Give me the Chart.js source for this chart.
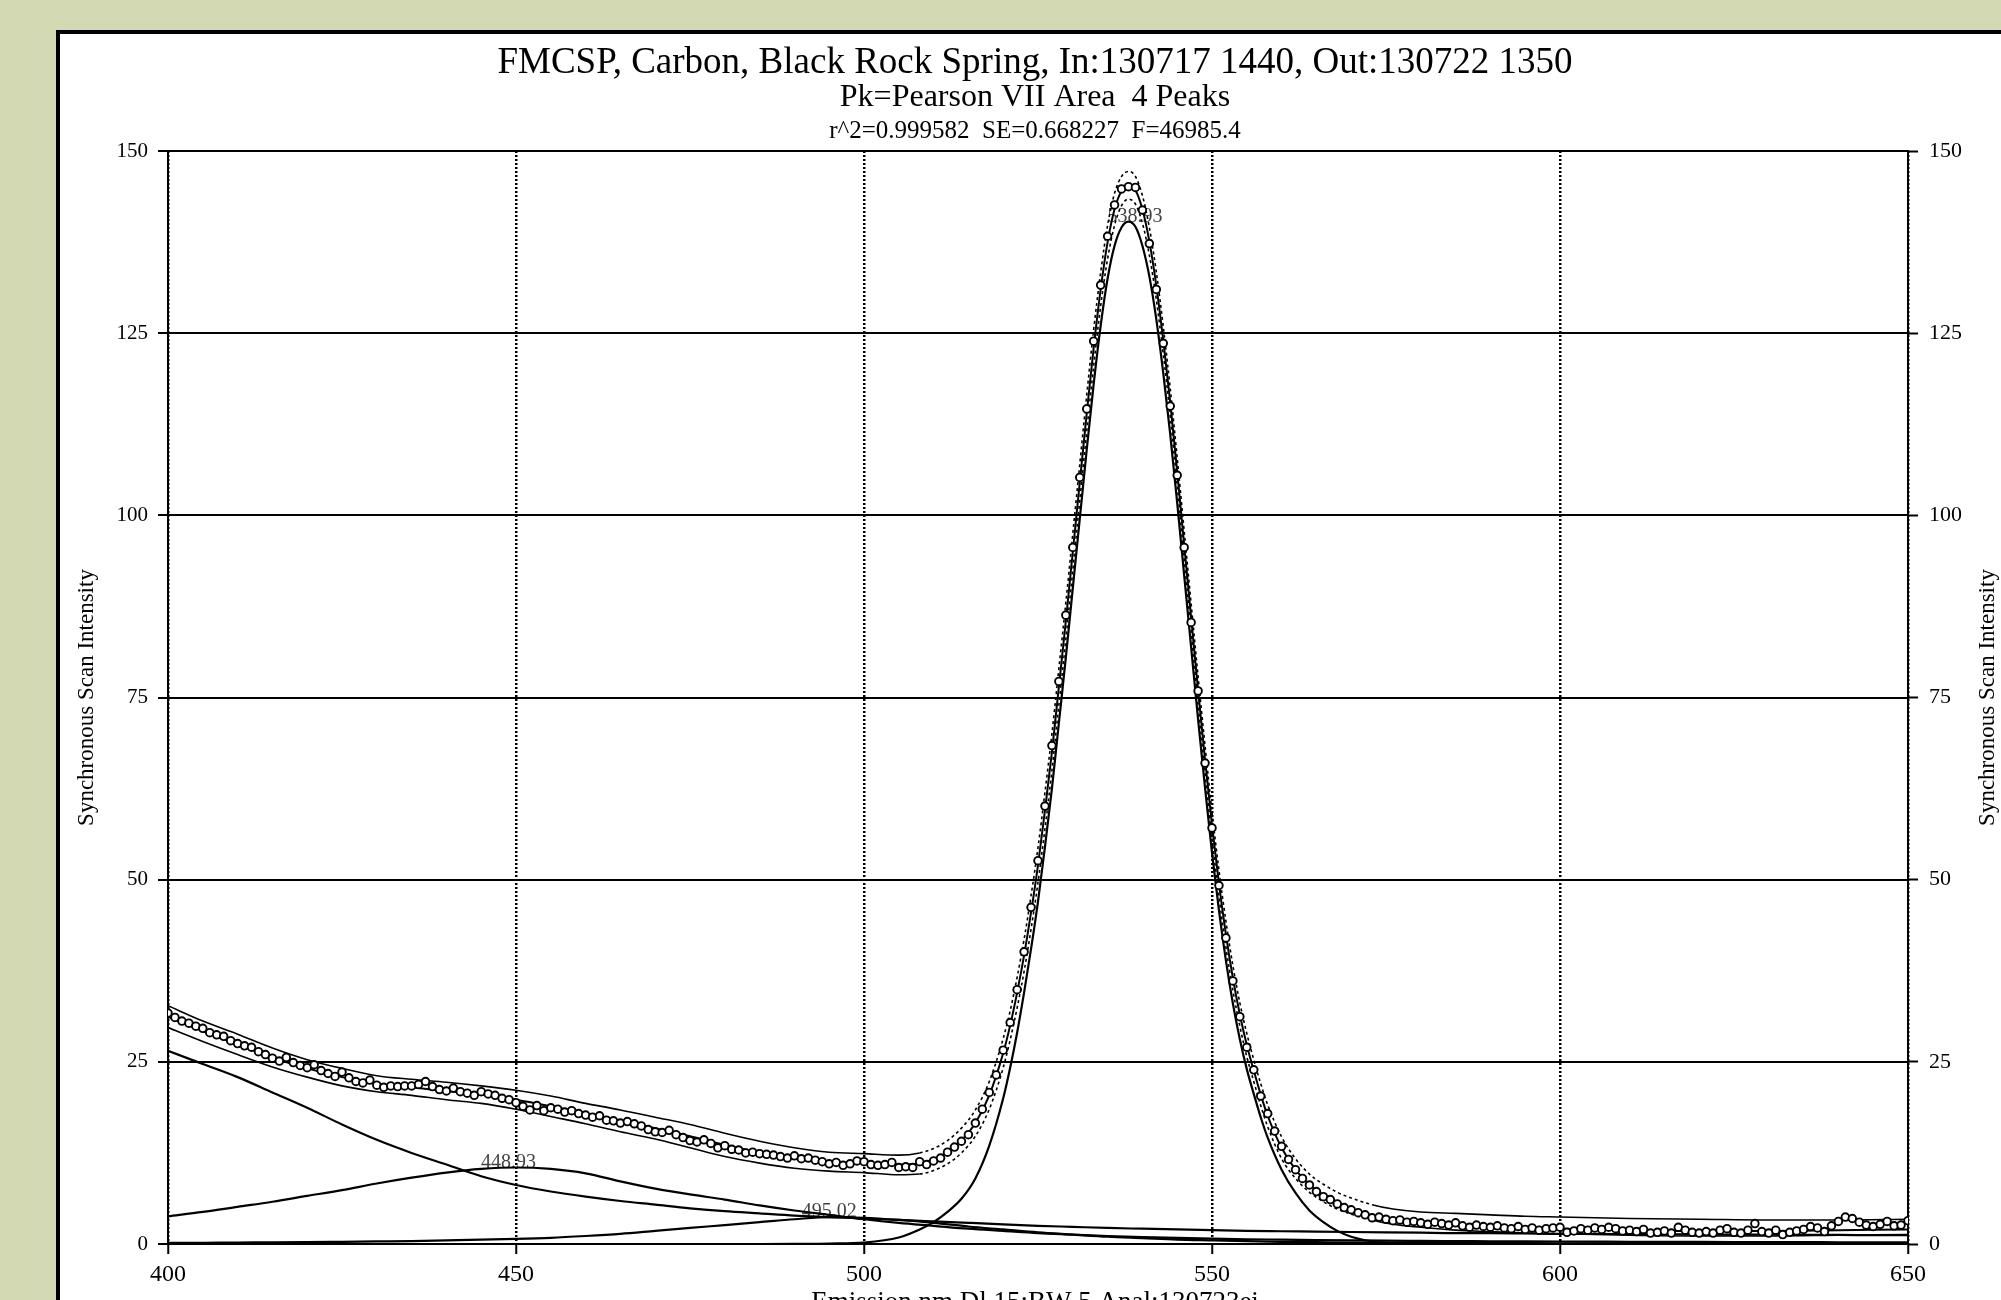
<!DOCTYPE html>
<html>
<head>
<meta charset="utf-8">
<title>FMCSP Carbon - Black Rock Spring</title>
<script src="https://cdn.jsdelivr.net/npm/chart.js@4.4.0/dist/chart.umd.min.js"></script>
<style>
    html, body { margin: 0; padding: 0; background: #d3dab3; overflow: hidden; }
    .panel { position: absolute; left: 56px; top: 30px; width: 1945px; height: 1270px; background: #fff; border-left: 4px solid #000; border-top: 4px solid #000; }
    #scanChart { position: absolute; left: 0; top: 0; }
</style>
</head>
<body>
<div class="panel"></div>
<canvas id="scanChart" width="2001" height="1300"></canvas>
<script>
//-------DATA--------//
const titleLines = [
    "FMCSP, Carbon, Black Rock Spring, In:130717 1440, Out:130722 1350",
    "Pk=Pearson VII Area  4 Peaks",
    "r^2=0.999582  SE=0.668227  F=46985.4"
];
const xTitle = "Emission nm Dl 15;BW 5 Anal:130723ei";
const yTitle = "Synchronous Scan Intensity";

// measured points, one per nm starting at 400
const scanStart = 400;
const scanIntensity = [
    31.7, 31.1, 30.6, 30.3, 29.9, 29.6, 29.0, 28.7, 28.5, 27.9,
    27.5, 27.2, 27.0, 26.4, 26.0, 25.5, 25.1, 25.6, 24.9, 24.5,
    24.2, 24.6, 23.8, 23.4, 23.0, 23.6, 22.8, 22.3, 22.1, 22.5,
    21.8, 21.5, 21.7, 21.6, 21.7, 21.7, 21.9, 22.3, 21.6, 21.2,
    21.0, 21.4, 20.9, 20.7, 20.4, 20.9, 20.6, 20.4, 20.0, 19.8,
    19.4, 18.9, 18.4, 19.0, 18.3, 18.7, 18.5, 18.1, 18.3, 17.9,
    17.7, 17.4, 17.6, 17.0, 16.9, 16.6, 16.8, 16.5, 16.2, 15.7,
    15.4, 15.3, 15.6, 15.0, 14.6, 14.2, 14.0, 14.3, 13.8, 13.2,
    13.5, 13.0, 12.9, 12.5, 12.6, 12.4, 12.3, 12.2, 12.0, 11.8,
    12.1, 11.7, 11.8, 11.5, 11.3, 11.0, 11.2, 10.8, 11.0, 11.4,
    11.3, 10.9, 10.8, 10.9, 11.2, 10.5, 10.6, 10.5, 11.3, 10.9,
    11.4, 11.8, 12.6, 13.3, 14.1, 15.0, 16.6, 18.5, 20.8, 23.2,
    26.6, 30.4, 34.9, 40.1, 46.2, 52.6, 60.1, 68.4, 77.2, 86.3,
    95.6, 105.2, 114.6, 123.9, 131.6, 138.3, 142.6, 144.8, 145.1, 145.0,
    141.9, 137.3, 131.0, 123.6, 115.0, 105.5, 95.6, 85.3, 75.9, 66.0,
    57.1, 49.2, 42.0, 36.1, 31.2, 27.0, 23.9, 20.3, 17.9, 15.5,
    13.4, 11.6, 10.2, 9.0, 8.1, 7.2, 6.5, 6.1, 5.5, 5.0,
    4.7, 4.3, 4.0, 3.6, 3.7, 3.4, 3.2, 3.3, 3.0, 3.1,
    2.9, 2.7, 3.0, 2.8, 2.6, 2.9, 2.5, 2.3, 2.6, 2.4,
    2.3, 2.5, 2.2, 2.1, 2.4, 2.0, 2.2, 1.9, 2.1, 2.2,
    2.3, 1.6, 1.8, 2.1, 1.9, 2.2, 2.0, 2.3, 2.1, 1.8,
    1.9, 1.7, 2.0, 1.5, 1.6, 1.8, 1.5, 2.3, 1.9, 1.6,
    1.5, 1.7, 1.5, 1.9, 2.1, 1.6, 1.5, 1.9, 2.8, 1.7,
    1.5, 1.9, 1.3, 1.6, 1.8, 2.0, 2.4, 2.2, 1.7, 2.5,
    3.1, 3.7, 3.5, 3.0, 2.6, 2.4, 2.7, 3.1, 2.5, 2.6,
    3.2
];

// fitted curve, its bands and the big 538.93 peak share this x grid
const fitX = [
    400, 405, 410, 415, 420, 425, 430, 435, 440, 445,
    450, 455, 460, 465, 470, 475, 480, 485, 490, 495,
    500, 505, 508, 510, 512, 514, 516, 518, 520, 521,
    522, 523, 524, 525, 526, 527, 528, 529, 530, 531,
    532, 533, 534, 535, 536, 537, 538, 539, 540, 541,
    542, 543, 544, 545, 546, 547, 548, 549, 550, 551,
    552, 553, 554, 555, 556, 557, 558, 560, 562, 564,
    566, 568, 570, 573, 576, 580, 585, 590, 595, 600,
    610, 620, 630, 640, 650
];
const fitY = [
    31.2, 29.2, 27.4, 25.6, 24.1, 22.9, 22.0, 21.5, 21.0, 20.5,
    19.8, 18.9, 17.9, 16.9, 15.9, 14.8, 13.6, 12.6, 11.8, 11.3,
    11.1, 10.9, 11.1, 11.6, 12.6, 14.2, 16.6, 20.4, 26.2, 30.0,
    34.5, 39.6, 45.5, 52.0, 59.5, 67.5, 76.5, 85.5, 95.0, 104.5,
    114.0, 123.0, 131.0, 137.5, 142.0, 144.5, 145.3, 144.6, 142.0, 137.6,
    131.5, 124.0, 115.5, 106.0, 96.0, 86.0, 76.0, 66.5, 57.5, 49.5,
    42.5, 36.5, 31.5, 27.3, 23.8, 20.5, 17.6, 13.2, 10.2, 8.1,
    6.7, 5.6, 4.8, 3.9, 3.3, 2.9, 2.6, 2.4, 2.2, 2.1,
    1.9, 1.8, 1.8, 1.9, 2.0
];
const upperY = [
    32.7, 30.6, 28.8, 26.9, 25.3, 24.1, 23.1, 22.6, 22.2, 21.7,
    21.1, 20.3, 19.3, 18.4, 17.4, 16.4, 15.2, 14.1, 13.2, 12.6,
    12.4, 12.2, 12.5, 13.1, 14.2, 15.9, 18.4, 22.3, 28.2, 32.0,
    36.6, 41.8, 47.8, 54.4, 62.0, 70.0, 79.0, 88.0, 97.5, 107.0,
    116.5, 125.5, 133.3, 139.8, 144.2, 146.5, 147.2, 146.5, 143.9, 139.5,
    133.4, 125.9, 117.4, 107.9, 97.9, 87.9, 77.9, 68.4, 59.3, 51.3,
    44.3, 38.2, 33.1, 28.9, 25.3, 22.0, 19.1, 14.7, 11.7, 9.6,
    8.2, 7.1, 6.3, 5.4, 4.8, 4.4, 4.2, 4.0, 3.8, 3.7,
    3.5, 3.4, 3.3, 3.3, 3.4
];
const lowerY = [
    29.7, 27.8, 26.0, 24.3, 22.9, 21.7, 20.9, 20.4, 19.8, 19.3,
    18.5, 17.5, 16.5, 15.4, 14.4, 13.2, 12.0, 11.1, 10.4, 10.0,
    9.8, 9.5, 9.6, 10.1, 11.0, 12.5, 14.8, 18.5, 24.2, 28.0,
    32.4, 37.4, 43.2, 49.6, 57.0, 65.0, 74.0, 83.0, 92.5, 102.0,
    111.5, 120.5, 128.7, 135.2, 139.8, 142.5, 143.4, 142.7, 140.1, 135.7,
    129.6, 122.1, 113.6, 104.1, 94.1, 84.1, 74.1, 64.6, 55.7, 47.7,
    40.7, 34.8, 29.9, 25.7, 22.3, 19.0, 16.1, 11.7, 9.0, 7.1,
    5.8, 4.8, 4.1, 3.3, 2.7, 2.3, 1.9, 1.7, 1.5, 1.4,
    1.2, 1.1, 1.1, 1.2, 1.3
];
const peak539 = [
    0, 0, 0, 0, 0, 0, 0, 0, 0, 0,
    0, 0, 0, 0, 0, 0, 0, 0, 0.02, 0.06,
    0.2, 0.9, 2.0, 3.0, 4.4, 6.2, 9.0, 13.5, 20.0, 24.2,
    29.0, 34.5, 40.5, 47.0, 54.5, 62.5, 71.5, 80.5, 90.0, 99.5,
    109.0, 118.0, 126.0, 132.5, 137.0, 139.5, 140.3, 139.6, 137.0, 132.8,
    126.9, 119.5, 111.1, 101.7, 91.8, 81.9, 72.0, 62.6, 53.7, 45.8,
    38.9, 33.0, 28.1, 24.0, 20.6, 17.4, 14.6, 10.2, 7.0, 4.6,
    3.0, 1.8, 1.0, 0.35, 0.1, 0, 0, 0, 0, 0,
    0, 0, 0, 0, 0
];

// the three smaller peaks, every 5 nm
const compX = [
    400, 405, 410, 415, 420, 425, 430, 435, 440, 445,
    450, 455, 460, 465, 470, 475, 480, 485, 490, 495,
    500, 505, 510, 515, 520, 525, 530, 535, 540, 545,
    550, 555, 560, 565, 570, 575, 580, 585, 590, 595,
    600, 605, 610, 615, 620, 625, 630, 635, 640, 645, 650
];
const peakLow = [
    26.5, 24.7, 22.9, 20.8, 18.7, 16.4, 14.3, 12.5, 10.9, 9.3,
    8.1, 7.2, 6.5, 5.9, 5.4, 4.9, 4.5, 4.2, 3.9, 3.7,
    3.5, 3.3, 3.1, 2.9, 2.7, 2.5, 2.35, 2.2, 2.1, 2.0,
    1.9, 1.8, 1.75, 1.7, 1.65, 1.6, 1.55, 1.5, 1.5, 1.45,
    1.4, 1.4, 1.35, 1.35, 1.3, 1.3, 1.3, 1.25, 1.25, 1.2, 1.2
];
const peak449 = [
    3.8, 4.4, 5.1, 5.8, 6.6, 7.4, 8.3, 9.1, 9.8, 10.3,
    10.5, 10.3, 9.7, 8.6, 7.6, 6.8, 6.1, 5.3, 4.6, 4.0,
    3.4, 2.9, 2.5, 2.1, 1.8, 1.5, 1.3, 1.1, 0.95, 0.85,
    0.75, 0.65, 0.6, 0.55, 0.5, 0.45, 0.42, 0.4, 0.38, 0.36,
    0.34, 0.32, 0.3, 0.29, 0.28, 0.27, 0.26, 0.25, 0.24, 0.23, 0.22
];
const peak495 = [
    0.15, 0.17, 0.2, 0.22, 0.25, 0.3, 0.35, 0.4, 0.5, 0.6,
    0.7, 0.85, 1.1, 1.4, 1.8, 2.2, 2.6, 3.0, 3.4, 3.7,
    3.6, 3.3, 2.9, 2.4, 2.0, 1.6, 1.3, 1.0, 0.8, 0.6,
    0.5, 0.4, 0.3, 0.25, 0.2, 0.18, 0.16, 0.14, 0.12, 0.11,
    0.1, 0.09, 0.08, 0.08, 0.07, 0.07, 0.06, 0.06, 0.05, 0.05, 0.05
];

// peak labels
const peakNames = ["448.93", "495.02", "538.93"];
const peakCentres = [448.93, 495.02, 538.93];
const peakTops = [10.5, 3.7, 140.3];

const xTicks = [400, 450, 500, 550, 600, 650];
const yTicks = [0, 25, 50, 75, 100, 125, 150];

//-------helpers--------//
function pairs(xs, ys) {
    return xs.map((x, i) => ({ x: x, y: ys[i] }));
}

const serif = '"Liberation Serif", "Times New Roman", serif';

// bands are drawn dotted around the big peak
function bandDash(ctx) {
    if (ctx.p0.parsed.x >= 508 && ctx.p1.parsed.x <= 573) {
        return [3, 3];
    }
    return undefined;
}

function curve(points, width) {
    return {
        data: points,
        borderColor: '#000',
        borderWidth: width,
        pointRadius: 0,
        fill: false,
        cubicInterpolationMode: 'monotone'
    };
}

//-------text plugin--------//
const frameText = {
    id: 'frameText',
    beforeDatasetsDraw(chart) {
        const { ctx } = chart;
        const x = chart.scales.x;
        const y = chart.scales.y;
        ctx.save();
        ctx.font = '20px ' + serif;
        ctx.fillStyle = '#444';
        ctx.textAlign = 'center';
        ctx.textBaseline = 'middle';
        for (let i = 0; i < peakNames.length; i++) {
            ctx.fillText(peakNames[i], x.getPixelForValue(peakCentres[i]), y.getPixelForValue(peakTops[i]) - 5);
        }
        ctx.restore();
    },
    afterDraw(chart) {
        const { ctx, chartArea } = chart;
        const mid = (chartArea.left + chartArea.right) / 2 - 3;
        const midY = (chartArea.top + chartArea.bottom) / 2;
        ctx.save();
        ctx.fillStyle = '#000';
        ctx.textAlign = 'center';
        ctx.textBaseline = 'middle';

        ctx.font = '37px ' + serif;
        ctx.fillText(titleLines[0], mid, 63);
        ctx.font = '32px ' + serif;
        ctx.fillText(titleLines[1], mid, 98);
        ctx.font = '25px ' + serif;
        ctx.fillText(titleLines[2], mid, 131);

        ctx.font = '27px ' + serif;
        ctx.textBaseline = 'top';
        ctx.fillText(xTitle, mid, 1289);

        // both y titles read bottom to top
        ctx.font = '23px ' + serif;
        ctx.textBaseline = 'middle';
        [87, 1988].forEach(function (px) {
            ctx.save();
            ctx.translate(px, midY);
            ctx.rotate(-Math.PI / 2);
            ctx.fillText(yTitle, 0, 0);
            ctx.restore();
        });
        ctx.restore();
    }
};

//-------CHART--------//
const ctx = document.getElementById('scanChart').getContext('2d');

const upperBand = curve(pairs(fitX, upperY), 1.6);
upperBand.segment = { borderDash: bandDash };
const lowerBand = curve(pairs(fitX, lowerY), 1.6);
lowerBand.segment = { borderDash: bandDash };

const scanChart = new Chart(ctx, {
    type: 'line',
    data: {
        datasets: [
            {
                data: pairs(scanIntensity.map((v, i) => scanStart + i), scanIntensity),
                showLine: false,
                pointRadius: 3.8,
                pointBorderWidth: 1.9,
                pointBorderColor: '#000',
                pointBackgroundColor: '#fff'
            },
            curve(pairs(fitX, fitY), 2),
            upperBand,
            lowerBand,
            curve(pairs(fitX, peak539), 2.2),
            curve(pairs(compX, peakLow), 2.2),
            curve(pairs(compX, peak449), 2.2),
            curve(pairs(compX, peak495), 2.2)
        ]
    },
    options: {
        responsive: false,
        animation: false,
        devicePixelRatio: 1,
        layout: { padding: { top: 151, left: 0, right: 0, bottom: 0 } },
        plugins: {
            legend: { display: false },
            tooltip: { enabled: false },
            title: { display: false }
        },
        scales: {
            x: {
                type: 'linear',
                min: 400,
                max: 650,
                afterBuildTicks: s => { s.ticks = xTicks.map(v => ({ value: v })); },
                afterFit: s => { s.height = 56; },
                ticks: { color: '#000', font: { family: serif, size: 24 }, padding: 6, maxRotation: 0 },
                grid: { color: '#000', lineWidth: 2.5, tickLength: 10, tickColor: '#000', tickWidth: 2 },
                border: { color: '#000', width: 2, dash: [2, 2] }
            },
            y: {
                min: 0,
                max: 150,
                afterBuildTicks: s => { s.ticks = yTicks.map(v => ({ value: v })); },
                afterFit: s => { s.width = 168; },
                ticks: { color: '#000', font: { family: serif, size: 21 }, padding: 10 },
                grid: { color: '#000', lineWidth: 2, tickLength: 10, tickColor: '#000', tickWidth: 2 },
                border: { color: '#000', width: 2 }
            },
            y2: {
                position: 'right',
                min: 0,
                max: 150,
                afterBuildTicks: s => { s.ticks = yTicks.map(v => ({ value: v })); },
                afterFit: s => { s.width = 93; },
                ticks: { color: '#000', font: { family: serif, size: 22 }, padding: 11 },
                grid: { drawOnChartArea: false, tickLength: 10, tickColor: '#000', tickWidth: 2 },
                border: { color: '#000', width: 2 }
            }
        }
    },
    plugins: [frameText]
});
</script>
</body>
</html>
